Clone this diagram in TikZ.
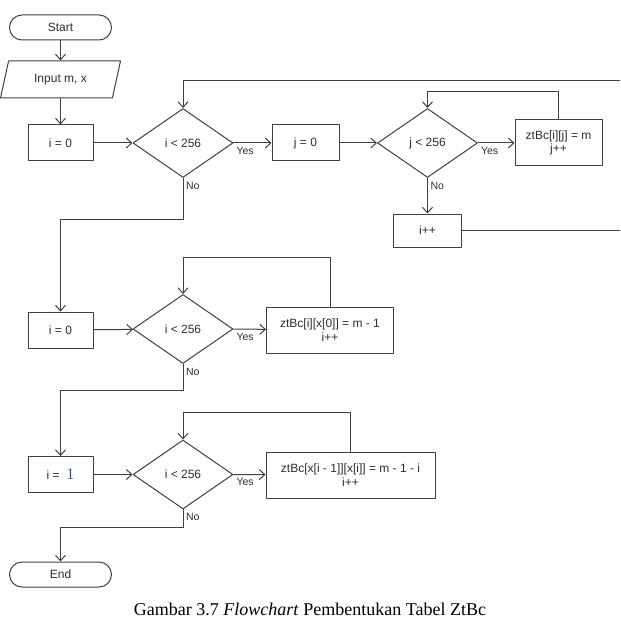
\documentclass[tikz,border=0pt]{standalone}
\usepackage{fontspec}
\setmainfont{Liberation Serif}
\setsansfont{Liberation Sans}
\usepackage{tikz}
\usetikzlibrary{shapes.geometric, arrows.meta}
\definecolor{garis}{RGB}{64,64,64}
\definecolor{teks}{RGB}{45,45,45}
\definecolor{biru}{RGB}{47,84,150}
\tikzstyle{proses} = [draw=garis, line width=1pt, rectangle, minimum width=65pt, minimum height=36pt, inner sep=0pt, text=teks, font=\sffamily\fontsize{12}{13.5}\selectfont, align=center]
\tikzstyle{terminal} = [proses, rounded corners=12.5pt, minimum width=102pt, minimum height=25pt]
\tikzstyle{io} = [proses, trapezium, trapezium left angle=53, trapezium right angle=127, trapezium stretches body, minimum width=120pt, minimum height=37pt]
\tikzstyle{keputusan} = [proses, diamond, minimum width=100pt, minimum height=69pt]
\tikzstyle{arrow} = [line width=1pt, draw=garis, ->, >={Straight Barb[length=5.5pt,width=10pt]}]
\tikzstyle{ket} = [inner sep=1pt, xshift=1.5pt, yshift=-2.5pt, text=teks, font=\sffamily\fontsize{10.5}{12}\selectfont]

\begin{document}
\begin{tikzpicture}[x=1pt,y=-1pt,line cap=round,line join=round]
    \useasboundingbox (0,0) rectangle (620,636);
    \clip (0,0) rectangle (620,636);
    \node[terminal] (start) at (60.5,27.5) {Start};
    \node[io] (input) at (60.5,79.5) {Input m, x};
    \node[proses] (iawal) at (60.5,143) {i = 0};
    \node[keputusan] (cekI) at (183,143) {i < 256};
    \node[proses, minimum width=67pt] (jawal) at (305.5,143) {j = 0};
    \node[keputusan] (cekJ) at (427.5,143) {j < 256};
    \node[proses, minimum width=87pt, minimum height=46pt] (isiA) at (558.5,143) {ztBc[i][j] = m\\j++};
    \node[proses, minimum width=68pt, minimum height=33pt] (tambahI) at (427.5,230.5) {i++};
    \coordinate (balik) at (650,81);

    \node[proses] (iawalB) at (60.5,330) {i = 0};
    \node[keputusan] (cekIB) at (183,329) {i < 256};
    \node[proses, minimum width=127pt, minimum height=46pt] (isiB) at (330,330) {ztBc[i][x[0]] = m - 1\\i++};

    \node[proses] (iawalC) at (60.5,474.5) {i =\ \ {\rmfamily\fontsize{16}{16}\selectfont\color{biru}1}};
    \node[keputusan] (cekIC) at (183,474.5) {i < 256};
    \node[proses, minimum width=169pt, minimum height=46pt] (isiC) at (350.5,475) {ztBc[x[i - 1]][x[i]] = m - 1 - i\\i++};
    \node[terminal] (selesai) at (60.5,574.5) {End};

    \draw[arrow] (start) -- (input);
    \draw[arrow] (input) -- (iawal);
    \draw[arrow] (iawal) -- (cekI);
    \draw[arrow] (cekI.east) -- node[ket, pos=0, anchor=north west] {Yes} (jawal);
    \draw[arrow] (jawal) -- (cekJ);
    \draw[arrow] (cekJ.east) -- node[ket, pos=0, anchor=north west] {Yes} (isiA);
    \draw[arrow] (isiA.north) -- ++(0,-28) -| (cekJ.north);
    \draw[arrow] (cekJ.south) -- node[ket, pos=0, anchor=north west] {No} (tambahI);
    \draw[arrow] (tambahI.east) -| (balik) -| (cekI.north);
    \draw[arrow] (cekI.south) -- node[ket, pos=0, anchor=north west] {No} ++(0,41) -| (iawalB.north);

    \draw[arrow] (iawalB) -- (cekIB);
    \draw[arrow] (cekIB.east) -- node[ket, pos=0, anchor=north west] {Yes} (isiB);
    \draw[arrow] (isiB.north) -- ++(0,-49) -| (cekIB.north);
    \draw[arrow] (cekIB.south) -- node[ket, pos=0, anchor=north west] {No} ++(0,26) -| (iawalC.north);

    \draw[arrow] (iawalC) -- (cekIC);
    \draw[arrow] (cekIC.east) -- node[ket, pos=0, anchor=north west] {Yes} (isiC);
    \draw[arrow] (isiC.north) -- ++(0,-39) -| (cekIC.north);
    \draw[arrow] (cekIC.south) -- node[ket, pos=0, anchor=north west] {No} ++(0,18) -| (selesai.north);

    \node[font=\fontsize{18}{20}\selectfont] (judul) at (310,609) {Gambar 3.7 \textit{Flowchart} Pembentukan Tabel ZtBc};
\end{tikzpicture}
\end{document}
